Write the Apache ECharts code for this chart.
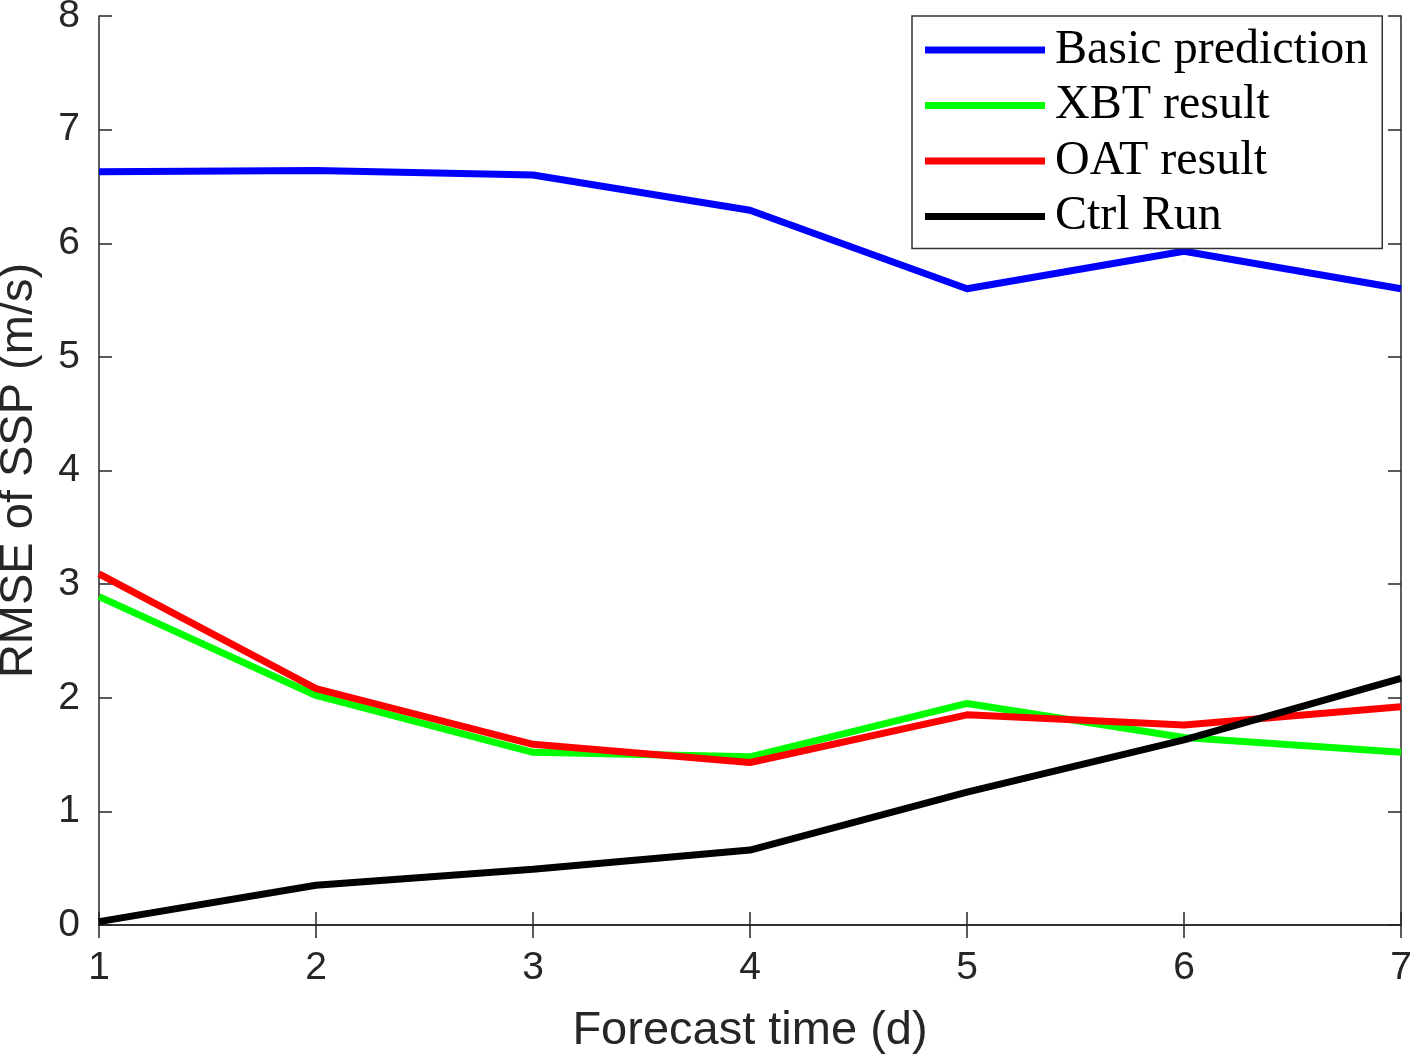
<!DOCTYPE html>
<html>
<head>
<meta charset="utf-8">
<script src="https://cdn.jsdelivr.net/npm/echarts@6/dist/echarts.min.js"></script>
<style>
  html, body { margin: 0; padding: 0; background: #fff; }
  #main { width: 1413px; height: 1057px; }
</style>
</head>
<body>
<div id="main"></div>
<script>
// forecast days
const days = [1, 2, 3, 4, 5, 6, 7];
// RMSE of SSP (m/s)
const basic = [6.63, 6.64, 6.60, 6.29, 5.60, 5.93, 5.60];
const xbt = [2.89, 2.02, 1.52, 1.48, 1.95, 1.65, 1.52];
const oat = [3.09, 2.08, 1.59, 1.43, 1.85, 1.76, 1.92];
const ctrl = [0.03, 0.35, 0.49, 0.66, 1.17, 1.63, 2.17];
const names = ['Basic prediction', 'XBT result', 'OAT result', 'Ctrl Run'];
const colors = ['#0000ff', '#00ff00', '#ff0000', '#000000'];

const axisCol = '#262626';
const sans = 'Liberation Sans, Arial, sans-serif';

let myChart = echarts.init(document.getElementById('main'));

function pairs(ys) {
    return days.map((d, i) => [d, ys[i]]);
}

function lineSeries(name, ys, i) {
    return {
        name: name,
        type: 'line',
        data: pairs(ys),
        showSymbol: false,
        symbol: 'none',
        color: colors[i],
        lineStyle: { width: 7, color: colors[i] },
        z: 2 + i
    };
}

const boxAxis = {
    axisLine: { show: true, lineStyle: { color: axisCol, width: 1.5 } },
    axisTick: { show: true, inside: true, length: 13, lineStyle: { color: axisCol, width: 1.5 } },
    splitLine: { show: false }
};

let option = {
    animation: false,
    backgroundColor: '#fff',
    grid: { left: 99, right: 12, top: 16, bottom: 132, containLabel: false, outerBoundsMode: 'none' },
    legend: {
        orient: 'vertical',
        left: 912,
        top: 16,
        padding: [10, 14, 8, 13],
        itemWidth: 120,
        itemHeight: 7,
        itemGap: 7.5,
        icon: 'rect',
        backgroundColor: '#fff',
        borderColor: '#333',
        borderWidth: 1.5,
        data: names,
        textStyle: {
            fontFamily: 'Liberation Serif, Times New Roman, serif',
            fontSize: 48,
            color: '#000',
            width: 312,
            padding: [0, 0, 0, 5]
        }
    },
    xAxis: [
        Object.assign({
            type: 'value', min: 1, max: 7, interval: 1,
            name: 'Forecast time (d)',
            nameLocation: 'middle',
            nameGap: 83,
            nameTextStyle: { fontFamily: sans, fontSize: 47, color: axisCol },
            axisLabel: { fontFamily: sans, fontSize: 39, color: axisCol, margin: 24 }
        }, boxAxis),
        Object.assign({
            type: 'value', min: 1, max: 7, interval: 1, position: 'top',
            axisLabel: { show: false }
        }, boxAxis)
    ],
    yAxis: [
        Object.assign({
            type: 'value', min: 0, max: 8, interval: 1,
            name: 'RMSE of SSP (m/s)',
            nameLocation: 'middle',
            nameGap: 56,
            nameTextStyle: { fontFamily: sans, fontSize: 47, color: axisCol },
            axisLabel: { fontFamily: sans, fontSize: 39, color: axisCol, margin: 19 }
        }, boxAxis),
        Object.assign({
            type: 'value', min: 0, max: 8, interval: 1, position: 'right',
            axisLabel: { show: false }
        }, boxAxis)
    ],
    series: [
        lineSeries(names[0], basic, 0),
        lineSeries(names[1], xbt, 1),
        lineSeries(names[2], oat, 2),
        lineSeries(names[3], ctrl, 3)
    ]
};

myChart.setOption(option);
</script>
</body>
</html>
